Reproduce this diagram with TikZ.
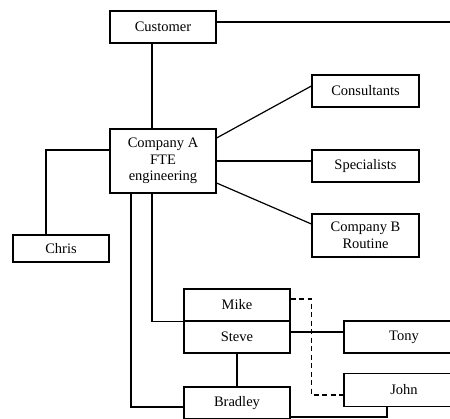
\documentclass[tikz,border=0pt]{standalone}
\usepackage{fontspec}
\setmainfont{Liberation Serif}
\usetikzlibrary{calc}
\begin{document}
\begin{tikzpicture}[x=1pt,y=-1pt,
  box/.style={draw,line width=1.2pt,rectangle,inner sep=0pt,align=center,
    font=\fontsize{14.5}{16.5}\selectfont},
  link/.style={draw,line width=1.2pt}]
\useasboundingbox (0,0) rectangle (450,418);
\clip (0,0) rectangle (450,418);

% boxes
\node[box,minimum width=106pt,minimum height=32pt] (cust) at (163,27) {Customer};
\node[box,minimum width=106pt,minimum height=64pt] (coA) at (163,161) {Company A\\FTE\\engineering};
\node[box,minimum width=107pt,minimum height=32pt] (cons) at (365.5,91) {Consultants};
\node[box,minimum width=107pt,minimum height=32pt] (spec) at (365.5,166) {Specialists};
\node[box,minimum width=107pt,minimum height=43pt] (cob) at (365.5,235.5) {Company B\\Routine};
\node[box,minimum width=96pt,minimum height=27pt] (chris) at (61,248.5) {Chris};
\node[box,minimum width=106pt,minimum height=32pt] (mike) at (237,305) {Mike};
\node[box,minimum width=106pt,minimum height=32pt] (steve) at (237,337) {Steve};
\node[box,minimum width=120pt,minimum height=32pt] (tony) at (404,337) {Tony};
\node[box,minimum width=120pt,minimum height=33pt] (john) at (404,390) {John};
\node[box,minimum width=106pt,minimum height=32pt] (brad) at (237,403) {Bradley};
\coordinate (edge) at (452,22);

% connectors
\draw[link] ([yshift=5pt]cust.east) -- (edge);
\draw[link] ([xshift=-11pt]cust.south) -- ([xshift=-11pt]coA.north);
\draw[link] ([yshift=23pt]coA.east) -- ([yshift=5pt]cons.west);
\draw[link] (coA.east) -- (coA.east -| spec.west);
\draw[link] ([yshift=-22pt]coA.east) -- ([yshift=11.5pt]cob.west);
\draw[link] ([yshift=11pt]coA.west) -| ([xshift=-15pt]chris.north);
\draw[link] ([xshift=-32pt]coA.south) |- ([yshift=-4pt]brad.west);
\draw[link] ([xshift=-11pt]coA.south) |- (mike.south west);
\coordinate (st) at ([yshift=5pt]steve.east);
\draw[link] (st) -- (st -| tony.west);
\draw[link] (steve.south) -- (brad.north);
\draw[link] ([yshift=-14pt]brad.east) -| ([xshift=-17pt]john.south);
\coordinate (mk) at ([yshift=6pt]mike.east);
\draw[link,dashed,dash pattern=on 5pt off 3.5pt] (mk) -- (mk -| spec.west) |- ([yshift=-5pt]john.west);
\end{tikzpicture}
\end{document}
